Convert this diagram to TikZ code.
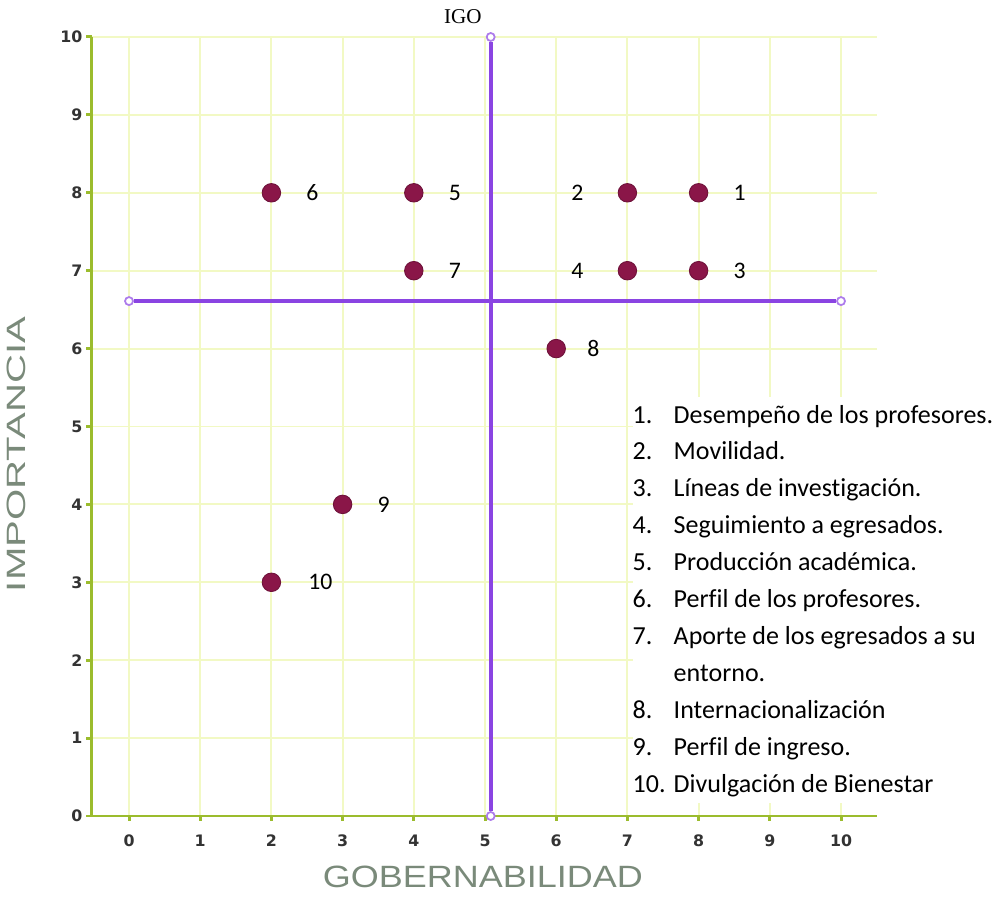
\documentclass[tikz,border=0pt]{standalone}
\usepackage{fontspec}
\setmainfont{Carlito}[Ligatures=CommonOff]
\newfontfamily\ejefont{Liberation Sans}
\newfontfamily\marcafont{DejaVu Sans}
\newfontfamily\igofont{Liberation Serif}
\usetikzlibrary{positioning}
\definecolor{verdeeje}{RGB}{155,188,45}
\definecolor{colrejilla}{RGB}{242,249,196}
\definecolor{morado}{RGB}{138,68,226}
\definecolor{granate}{RGB}{138,22,72}
\definecolor{colortitulo}{RGB}{122,138,122}
\tikzset{
	node distance=0.5cm,
	rejilla/.style={draw=colrejilla, line width=1.1pt},
	eje/.style={draw=verdeeje, line width=1.7pt},
	marca/.style={font=\marcafont\bfseries\fontsize{9}{9}\selectfont, text=black!80, inner sep=0},
	titulo/.style={font=\ejefont\fontsize{16}{16}\selectfont, text=colortitulo, inner sep=0},
	punto/.style={circle,
		    fill=granate,
		    draw=granate!80!black,
		    line width=0.5pt,
		    minimum size=0.37cm,
		    inner sep=0},
	numero/.style={font=\fontsize{13.5}{13.5}\selectfont, inner sep=0},
	extremo/.style={circle, draw=morado!70, fill=white, line width=1pt, minimum size=0.16cm, inner sep=0},
	igo/.style={draw=morado, line width=2.3pt}
}
\begin{document}
\begin{tikzpicture}[x=1.424cm, y=1.558cm]
	\useasboundingbox (-1.812,-1.053) rectangle (12.163,10.475);

	\foreach \i in {0,...,10} {
		\draw[rejilla] (\i,0) -- (\i,10);
		\draw[rejilla] (-0.52,\i) -- (10.5,\i);
		\draw[eje] (\i,0) -- (\i,-0.07);
		\draw[eje] (-0.52,\i) -- (-0.6,\i);
		\node[marca] (x\i) at (\i,-0.32) {\i};
		\node[marca, anchor=east] (y\i) at (-0.65,\i) {\i};
	}
	\draw[eje] (-0.52,10) -- (-0.52,0) -- (10.5,0);

	\node[titulo] (gob) at (4.97,-0.78) {\resizebox{6.4cm}{0.43cm}{GOBERNABILIDAD}};
	\node[titulo, rotate=90] (imp) at (-1.587,4.64) {\resizebox{5.5cm}{0.37cm}{IMPORTANCIA}};
	\node[font=\igofont\fontsize{12}{12}\selectfont, inner sep=0] (igo) at (4.69,10.257) {IGO};

	\node[anchor=north west, fill=white, inner sep=0, font=\fontsize{14.8}{21}\selectfont] (lista) at (7.07,5.38) {%
		\begin{tabular}{@{}p{0.82cm}@{}l@{}}
		1. & Desempeño de los profesores.\\
		2. & Movilidad.\\
		3. & Líneas de investigación.\\
		4. & Seguimiento a egresados.\\
		5. & Producción académica.\\
		6. & Perfil de los profesores.\\
		7. & Aporte de los egresados a su\\
		   & entorno.\\
		8. & Internacionalización\\
		9. & Perfil de ingreso.\\
		10. & Divulgación de Bienestar
		\end{tabular}};

	\node[extremo] (vtop) at (5.08,10) {};
	\node[extremo] (vbot) at (5.08,0) {};
	\node[extremo] (hizq) at (0,6.61) {};
	\node[extremo] (hder) at (10,6.61) {};
	\draw[igo] (vbot) -- (vtop);
	\draw[igo] (hizq) -- (hder);

	\node[punto] (p1) at (8,8) {};
	\node[punto] (p2) at (7,8) {};
	\node[punto] (p3) at (8,7) {};
	\node[punto] (p4) at (7,7) {};
	\node[punto] (p5) at (4,8) {};
	\node[punto] (p6) at (2,8) {};
	\node[punto] (p7) at (4,7) {};
	\node[punto] (p8) at (6,6) {};
	\node[punto] (p9) at (3,4) {};
	\node[punto] (p10) at (2,3) {};

	\node[numero, right=of p1] (n1) {1};
	\node[numero, left=0.68cm of p2] (n2) {2};
	\node[numero, right=of p3] (n3) {3};
	\node[numero, left=0.68cm of p4] (n4) {4};
	\node[numero, right=of p5] (n5) {5};
	\node[numero, right=of p6] (n6) {6};
	\node[numero, right=of p7] (n7) {7};
	\node[numero, right=0.42cm of p8] (n8) {8};
	\node[numero, right=of p9] (n9) {9};
	\node[numero, right=0.54cm of p10] (n10) {10};

\end{tikzpicture}
\end{document}
